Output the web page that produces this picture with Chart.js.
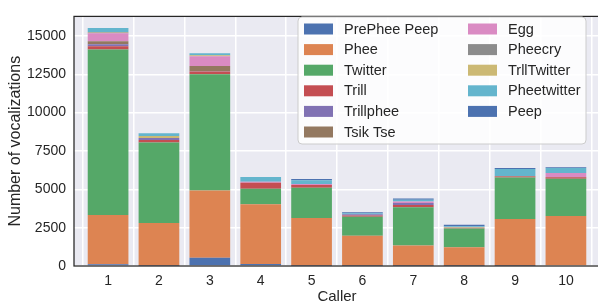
<!DOCTYPE html>
<html>
<head>
<meta charset="utf-8">
<script src="https://cdn.jsdelivr.net/npm/chart.js@4/dist/chart.umd.min.js"></script>
<style>
  html, body { margin: 0; padding: 0; overflow: hidden; background: #fff; }
  #wrap { width: 606px; height: 302px; position: relative; }
</style>
</head>
<body>
<div id="wrap"><canvas id="callerChart"></canvas></div>
<script>
// callers on the x axis
const callers = [1, 2, 3, 4, 5, 6, 7, 8, 9, 10];
const yTicks = [0, 2500, 5000, 7500, 10000, 12500, 15000];

// counts per call type, one value per caller
const prePheePeep = [120, 20, 530, 128, 20, 10, 10, 10, 10, 50];
const phee        = [3200, 2790, 4385, 3893, 3108, 1970, 1330, 1205, 3055, 3205];
const twitter     = [10790, 5235, 7596, 1022, 1978, 1232, 2490, 1234, 2702, 2426];
const trill       = [213, 170, 170, 383, 170, 85, 149, 45, 64, 100];
const trillphee   = [128, 128, 20, 0, 0, 85, 128, 0, 0, 0];
const tsikTse     = [200, 0, 340, 0, 0, 0, 0, 0, 42, 28];
const egg         = [532, 0, 638, 64, 64, 0, 106, 0, 0, 255];
const pheecry     = [40, 0, 0, 0, 0, 0, 0, 0, 0, 0];
const trllTwitter = [40, 128, 64, 0, 0, 0, 0, 40, 0, 0];
const pheetwitter = [255, 190, 128, 319, 255, 64, 106, 64, 447, 319];
const peep        = [0, 0, 0, 0, 85, 64, 85, 85, 64, 64];

const callTypes = ["PrePhee Peep", "Phee", "Twitter", "Trill", "Trillphee", "Tsik Tse",
                   "Egg", "Pheecry", "TrllTwitter", "Pheetwitter", "Peep"];
const series = [prePheePeep, phee, twitter, trill, trillphee, tsikTse,
                egg, pheecry, trllTwitter, pheetwitter, peep];
const palette = ["#4C72B0", "#DD8452", "#55A868", "#C44E52", "#8172B3", "#937860",
                 "#DA8BC3", "#8C8C8C", "#CCB974", "#64B5CD", "#4C72B0"];

const textColor = "#262626";
const fontFamily = "'Liberation Sans', Arial, sans-serif";

let datasets = [];
for (let i = 0; i < callTypes.length; i++) {
    datasets.push({
        label: callTypes[i],
        data: callers.map((c, j) => ({x: c, y: series[i][j]})),
        backgroundColor: palette[i],
        borderWidth: 0,
        barPercentage: 0.8,
        categoryPercentage: 1.0
    });
}

// axes background + frame
const frame = {
    id: "frame",
    beforeDraw(chart) {
        const a = chart.chartArea, ctx = chart.ctx;
        ctx.save();
        ctx.fillStyle = "#EAEAF2";
        ctx.fillRect(a.left, a.top, a.right - a.left, a.bottom - a.top);
        ctx.restore();
    },
    afterDatasetsDraw(chart) {
        const a = chart.chartArea, ctx = chart.ctx;
        ctx.save();
        ctx.strokeStyle = textColor;
        ctx.lineWidth = 1.25;
        ctx.strokeRect(a.left, a.top, a.right - a.left, a.bottom - a.top);
        ctx.restore();
    }
};

// matplotlib style legend, two columns, upper right
const mplLegend = {
    id: "mplLegend",
    afterDraw(chart) {
        const ctx = chart.ctx;
        const bx = 298, by = 17, bw = 288, bh = 127;
        ctx.save();
        ctx.beginPath();
        ctx.roundRect(bx, by, bw, bh, 4);
        ctx.fillStyle = "rgba(255,255,255,0.85)";
        ctx.fill();
        ctx.strokeStyle = "#cccccc";
        ctx.lineWidth = 1;
        ctx.stroke();
        ctx.font = "14.5px " + fontFamily;
        ctx.textBaseline = "middle";
        chart.data.datasets.forEach((ds, i) => {
            const col = i < 6 ? 0 : 1;
            const row = col === 0 ? i : i - 6;
            const y = 29 + row * 20.6;
            const px = col === 0 ? 304 : 468;
            const tx = col === 0 ? 344 : 508;
            ctx.fillStyle = ds.backgroundColor;
            ctx.fillRect(px, y - 5.5, 29, 11);
            ctx.fillStyle = textColor;
            ctx.fillText(ds.label, tx, y + 0.5);
        });
        ctx.restore();
    }
};

new Chart(document.getElementById("callerChart"), {
    type: "bar",
    data: {datasets: datasets},
    options: {
        responsive: true,
        maintainAspectRatio: false,
        animation: false,
        layout: {padding: {top: 11, right: 6, left: 0, bottom: 0}},
        plugins: {legend: {display: false}, tooltip: {enabled: false}},
        scales: {
            x: {
                type: "linear",
                stacked: true,
                min: 0.33,
                max: 10.67,
                offset: false,
                afterBuildTicks: (scale) => { scale.ticks = callers.map(v => ({value: v})); },
                afterFit: (scale) => { scale.height = 36; },
                grid: {color: "#ffffff", lineWidth: 1.5, drawTicks: false},
                border: {display: false},
                ticks: {color: textColor, padding: 7, font: {family: fontFamily, size: 14},
                        callback: (v) => String(v)},
                title: {display: true, text: "Caller", color: textColor,
                        font: {family: fontFamily, size: 15}, padding: {top: 0, bottom: -4}}
            },
            y: {
                stacked: true,
                min: 0,
                max: 16275,
                afterBuildTicks: (scale) => { scale.ticks = yTicks.map(v => ({value: v})); },
                afterFit: (scale) => { scale.width = 74; },
                grid: {color: "#ffffff", lineWidth: 1.5, drawTicks: false},
                border: {display: false},
                ticks: {color: textColor, padding: 8, font: {family: fontFamily, size: 14},
                        callback: (v) => String(v)},
                title: {display: true, text: "Number of vocalizations", color: textColor,
                        font: {family: fontFamily, size: 16}, padding: {top: 6, bottom: 0}}
            }
        }
    },
    plugins: [frame, mplLegend]
});
</script>
</body>
</html>
